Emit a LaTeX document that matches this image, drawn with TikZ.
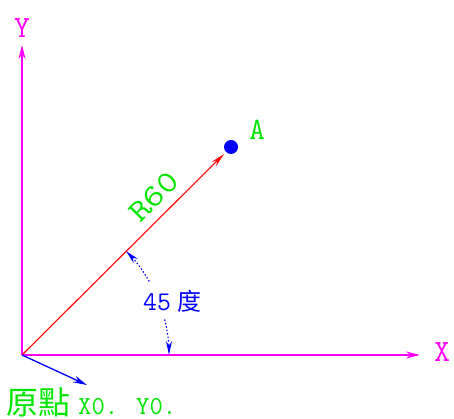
\documentclass[tikz,border=0pt]{standalone}
\usepackage{fontspec}
\newfontfamily\cjk{Noto Sans CJK TC}
\usetikzlibrary{arrows.meta}
\definecolor{mag}{RGB}{255,0,255}
\definecolor{grn}{RGB}{0,230,0}
\definecolor{blu}{RGB}{0,0,255}
\begin{document}
\begin{tikzpicture}[x=1pt,y=1pt,
  axis/.style={mag,line width=1.8pt,-{Stealth[length=14pt,width=7pt]}},
  dimarrow/.style={blu,line width=1.1pt,dash pattern=on 1.5pt off 2pt,-{Stealth[length=14pt,width=6pt,sep=0pt]}},
  lbl/.style={inner sep=0pt,font=\ttfamily\fontsize{31}{31}\selectfont}]
\useasboundingbox (0,0) rectangle (454,419);
\coordinate (O) at (22,64);
\coordinate (Ytip) at (22,374);
\coordinate (Xtip) at (420,64);
\node[circle,fill=blu,inner sep=0pt,minimum size=14pt] (A) at (231,272) {};
\coordinate (Rtip) at (224,265);
\coordinate (Otip) at (87,34);
% axes
\draw[axis] (O) -- (Ytip);
\draw[axis] (O) -- (Xtip);
\node[lbl,mag] (Ylab) at (22,391) {Y};
\node[lbl,mag] (Xlab) at (442,67) {X};
% radius line
\draw[red,line width=1.1pt,-{Stealth[length=14pt,width=6pt]}] (O) -- (Rtip);
\node[lbl,grn] (Alab) at (257,289) {A};
\node[lbl,grn,rotate=45,xscale=1.2] (R) at (154,222) {R60};
% angle dimension
\draw[dimarrow] (O) ++(30:147) arc[start angle=30,end angle=45,radius=147];
\draw[dimarrow] (O) ++(14:147) arc[start angle=14,end angle=0,radius=147];
\node[inner sep=0pt,blu,anchor=west] (ang) at (143,118) {\ttfamily\fontsize{27}{27}\selectfont 45\hspace{6pt}\cjk\fontsize{24}{24}\selectfont 度};
% origin
\draw[blu,line width=1.3pt,-{Stealth[length=14pt,width=7pt]}] (O) -- (Otip);
\node[inner sep=0pt,grn,anchor=west] (Olab) at (6,17) {\cjk\fontsize{32}{32}\selectfont 原點\hspace{8pt}\ttfamily\fontsize{26}{26}\selectfont X0. Y0.};
\end{tikzpicture}
\end{document}
